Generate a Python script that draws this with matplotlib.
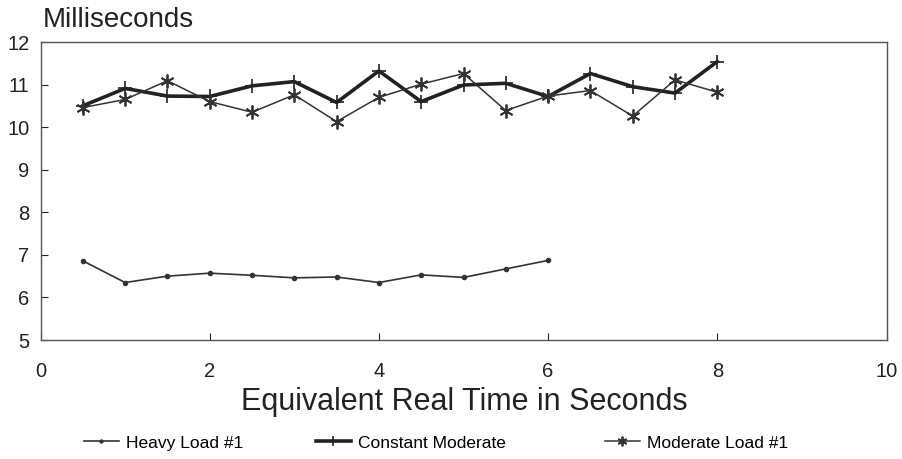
import matplotlib
matplotlib.use("Agg")
import matplotlib.pyplot as plt

plt.rcParams['font.family'] = ['Liberation Sans', 'DejaVu Sans']

heavy_x = [0.5, 1, 1.5, 2, 2.5, 3, 3.5, 4, 4.5, 5, 5.5, 6]
heavy_y = [6.86, 6.35, 6.50, 6.57, 6.52, 6.46, 6.48, 6.35, 6.53, 6.47, 6.67, 6.87]

const_x = [0.5, 1, 1.5, 2, 2.5, 3, 3.5, 4, 4.5, 5, 5.5, 6, 6.5, 7, 7.5, 8]
const_y = [10.50, 10.91, 10.73, 10.72, 10.97, 11.07, 10.58, 11.32, 10.60, 10.99,
           11.03, 10.72, 11.26, 10.95, 10.80, 11.54]

mod_x = [0.5, 1, 1.5, 2, 2.5, 3, 3.5, 4, 4.5, 5, 5.5, 6, 6.5, 7, 7.5, 8]
mod_y = [10.46, 10.65, 11.09, 10.60, 10.35, 10.76, 10.13, 10.70, 11.01, 11.26,
         10.39, 10.73, 10.86, 10.26, 11.11, 10.82]

labels = ["Heavy Load #1", "Constant Moderate", "Moderate Load #1"]
xticks = [0, 2, 4, 6, 8, 10]
yticks = [5, 6, 7, 8, 9, 10, 11, 12]

W, H = 902, 459
fig = plt.figure(figsize=(W / 100, H / 100), dpi=100)
ax = fig.add_axes([40.5 / W, 1 - 340 / H, 846 / W, 298 / H])

h1, = ax.plot(heavy_x, heavy_y, color='#333333', lw=1.2, marker='o', ms=3, label=labels[0])
h2, = ax.plot(const_x, const_y, color='#222222', lw=2.6, marker='+', ms=10, mew=1.2, label=labels[1])
h3, = ax.plot(mod_x, mod_y, color='#333333', lw=1.1, marker=(6, 2, 0), ms=10, mew=1.3, label=labels[2])

ax.set_xlim(0, 10)
ax.set_ylim(5, 12)
ax.set_xticks(xticks)
ax.set_yticks(yticks)
ax.tick_params(direction='in', length=5, width=0.8, labelsize=14.5, colors='#222222')
ax.tick_params(axis='x', pad=16)
ax.tick_params(axis='y', pad=8)
for s in ax.spines.values():
    s.set_color('#555555')
    s.set_linewidth(1.0)

fig.text(43 / W, 1 - 27 / H, "Milliseconds", fontsize=20, va='baseline', ha='left', color='#222222')
fig.text(464 / W, 1 - 410 / H, "Equivalent Real Time in Seconds", fontsize=22,
         va='baseline', ha='center', color='#222222')

for h, lab, xs in zip([h1, h2, h3], labels, [84, 316, 605]):
    fig.legend(handles=[h], labels=[lab], loc='center left',
               bbox_to_anchor=(xs / W, 1 - 443 / H), frameon=False,
               fontsize=12.5, handlelength=2.0, handletextpad=0.4,
               borderpad=0, borderaxespad=0, markerscale=0.7)

fig.savefig("out.png", dpi=100)
